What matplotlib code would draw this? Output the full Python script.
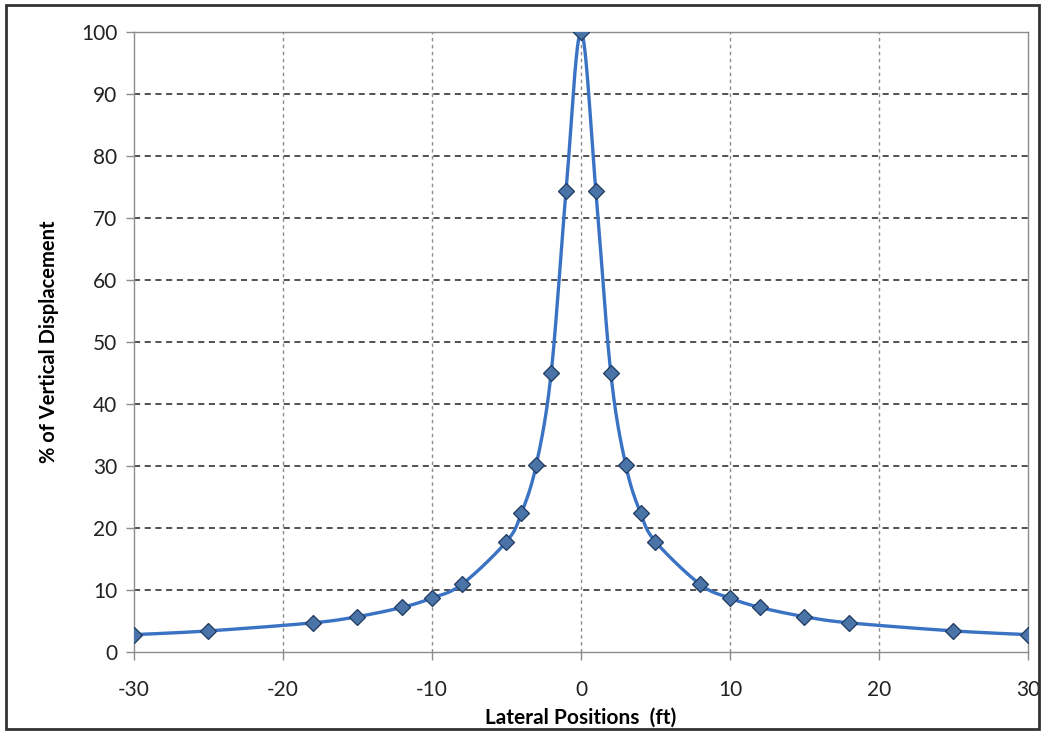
import matplotlib.pyplot as plt
import numpy as np
from matplotlib.patches import Rectangle

# data
lateral_ft = [-30, -25, -18, -15, -12, -10, -8, -5, -4, -3, -2, -1, 0,
              1, 2, 3, 4, 5, 8, 10, 12, 15, 18, 25, 30]
pct_disp = [2.8, 3.4, 4.7, 5.7, 7.2, 8.7, 10.9, 17.8, 22.4, 30.2, 45.0, 74.4, 100.0,
            74.4, 45.0, 30.2, 22.4, 17.8, 10.9, 8.7, 7.2, 5.7, 4.7, 3.4, 2.8]
x_ticks = [-30, -20, -10, 0, 10, 20, 30]
y_ticks = [0, 10, 20, 30, 40, 50, 60, 70, 80, 90, 100]


# --------------------------------------------------------------------------
def smooth_line(x, y, n=30):
    # Bezier smoothing like spreadsheet "smoothed line" (only for drawing the curve)
    x = np.asarray(x, float)
    y = np.asarray(y, float)
    px = np.concatenate(([x[0]], x, [x[-1]]))
    py = np.concatenate(([y[0]], y, [y[-1]]))
    t = np.linspace(0, 1, n)
    xs, ys = [], []
    for i in range(1, len(px) - 2):
        p0 = np.array([px[i], py[i]])
        p3 = np.array([px[i + 1], py[i + 1]])
        c1 = p0 + (p3 - np.array([px[i - 1], py[i - 1]])) / 6
        c2 = p3 - (np.array([px[i + 2], py[i + 2]]) - p0) / 6
        b = ((1 - t) ** 3)[:, None] * p0 + (3 * (1 - t) ** 2 * t)[:, None] * c1 \
            + (3 * (1 - t) * t ** 2)[:, None] * c2 + (t ** 3)[:, None] * p3
        xs.append(b[:, 0])
        ys.append(b[:, 1])
    return np.concatenate(xs), np.concatenate(ys)


plt.rcParams['font.family'] = ['Lato', 'DejaVu Sans']
plt.rcParams['axes.unicode_minus'] = False

fig = plt.figure(figsize=(10.45, 7.32), dpi=100)
ax = fig.add_axes([0.1282, 0.1093, 0.8555, 0.847])

# vertical grid: grey dotted, horizontal grid: black dashed
for xv in x_ticks[1:-1]:
    ax.axvline(xv, color='#8c8c8c', lw=1.0, ls=(0, (2.5, 2.5)), zorder=1)
for yv in y_ticks[1:-1]:
    ax.axhline(yv, color='#222222', lw=1.1, ls=(0, (4, 3)), zorder=1)

sx, sy = smooth_line(lateral_ft, pct_disp)
ax.plot(sx, sy, color='#3a72c4', lw=2.4, zorder=3)
ax.plot(lateral_ft, pct_disp, ls='none', marker='D', ms=8,
        mfc='#4a74a8', mec='#1e3a60', mew=0.9, zorder=4)

ax.set_xlim(-30, 30)
ax.set_ylim(0, 100)
ax.set_xticks(x_ticks)
ax.set_yticks(y_ticks)
ax.tick_params(axis='both', labelsize=15, direction='out', length=6,
               color='#8c8c8c', width=1, colors='#222222')
ax.tick_params(axis='x', pad=14)
ax.tick_params(axis='y', pad=6)
for s in ax.spines.values():
    s.set_color('#8c8c8c')
    s.set_linewidth(1.0)

ax.set_xlabel('Lateral Positions  (ft)', fontsize=15, fontweight='bold', labelpad=6)
ax.set_ylabel('% of Vertical Displacement', fontsize=14.5, fontweight='bold', labelpad=16)

# outer chart frame
fig.patches.append(Rectangle((0.006, 0.004), 0.988, 0.989, transform=fig.transFigure,
                             fill=False, edgecolor='#333333', lw=2.0))

fig.savefig('out.png', dpi=100)
